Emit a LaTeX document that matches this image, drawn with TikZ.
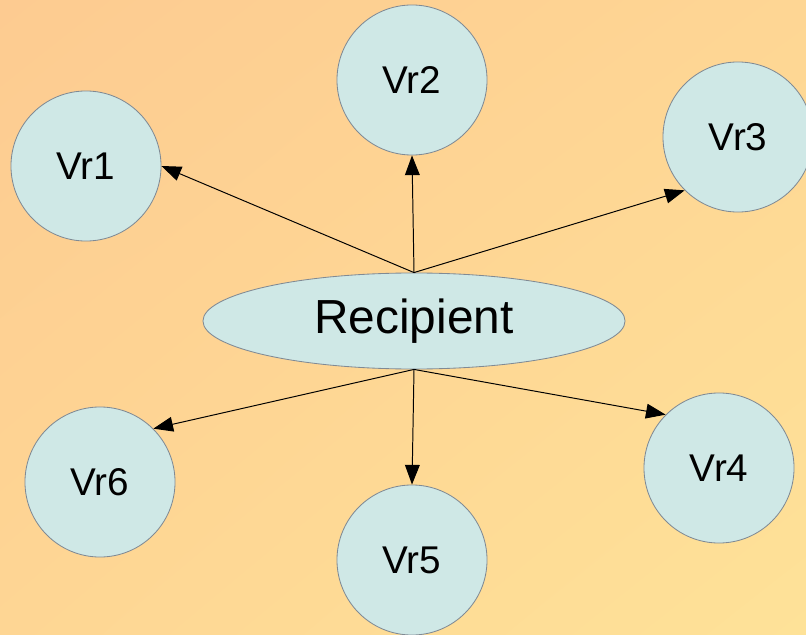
\documentclass[tikz,border=0pt]{standalone}
\usepackage{fontspec}
\setmainfont{Liberation Sans}
\usepackage{tikz}
\usetikzlibrary{
    arrows.meta,
    shapes.geometric,
    shadings
}
\usepackage{xcolor}
\definecolor{bgorange}{RGB}{253,203,145}
\definecolor{bgmid}{RGB}{254,214,148}
\definecolor{bgyellow}{RGB}{254,226,152}
\definecolor{nodefill}{RGB}{207,232,230}
\definecolor{nodeline}{RGB}{128,138,148}
\tikzstyle{peer} = [
    circle,
    draw=nodeline,
    fill=nodefill,
    line width=0.6pt,
    minimum size=3.75cm,
    inner sep=0pt,
    font=\fontsize{27.5}{32}\selectfont
]
\tikzstyle{hub} = [
    ellipse,
    draw=nodeline,
    fill=nodefill,
    line width=0.6pt,
    minimum width=10.55cm,
    minimum height=2.4cm,
    inner sep=0pt,
    font=\fontsize{34}{40}\selectfont
]
\tikzstyle{arrow} = [
    -{Triangle[length=14pt,width=10.5pt]},
    line width=0.7pt,
    draw=black
]

\begin{document}
\begin{tikzpicture}[x=0.025cm, y=-0.025cm]
    \useasboundingbox (0,0) rectangle (806,635);
    \clip (0,0) rectangle (806,635);
    % background
    \shade[upper left=bgorange, upper right=bgmid,
           lower left=bgmid, lower right=bgyellow] (0,0) rectangle (806,635);

    % Recipient
    \node[hub] (rec) at (414,321) {Recipient};

    % Vr nodes
    \node[peer] (v1) at (86,166) {Vr1};
    \node[peer] (v2) at (412,80) {Vr2};
    \node[peer] (v3) at (738,137) {Vr3};
    \node[peer] (v4) at (719,468) {Vr4};
    \node[peer] (v5) at (412,560) {Vr5};
    \node[peer] (v6) at (100,482) {Vr6};

    % Arrows
    \draw[arrow] (rec.north) -- (v1.east);
    \draw[arrow] (rec.north) -- (v2.south);
    \draw[arrow] (rec.north) -- (v3.south west);
    \draw[arrow] (rec.south) -- (v4.north west);
    \draw[arrow] (rec.south) -- (v5.north);
    \draw[arrow] (rec.south) -- (v6.north east);
\end{tikzpicture}
\end{document}
